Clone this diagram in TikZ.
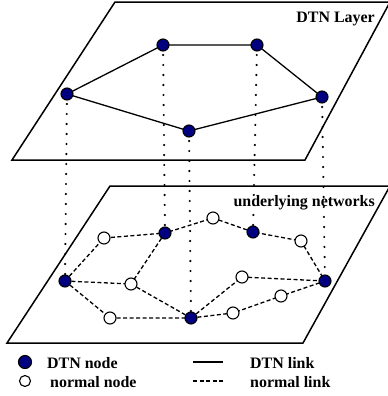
\documentclass[tikz,border=0pt]{standalone}
\usepackage{fontspec}
\setmainfont{Liberation Serif}
\definecolor{dtnblue}{RGB}{0,0,128}
\begin{document}
\begin{tikzpicture}[x=1bp,y=-1bp,
  plane/.style={line width=1.5bp, line join=miter},
  dtn/.style={circle, draw=black, fill=dtnblue, line width=1.1bp, inner sep=0pt, minimum size=12bp},
  plain/.style={circle, draw=black, fill=white, line width=1.1bp, inner sep=0pt, minimum size=12bp},
  dtnlink/.style={line width=1.3bp},
  normlink/.style={line width=1.3bp, dash pattern=on 4bp off 2.5bp},
  proj/.style={line width=2.4bp, line cap=round, dash pattern=on 0bp off 10bp},
  lbl/.style={font=\fontsize{16}{19}\selectfont\bfseries, inner sep=0pt}
]
\useasboundingbox (0,0) rectangle (388,396);
\clip (0,0) rectangle (388,396);

% the two planes
\draw[plane] (12,160) -- (115,2) -- (390,2) -- (305,160) -- cycle;
\draw[plane] (7,343) -- (110,186) -- (390,186) -- (303,343) -- cycle;
\node[lbl, anchor=east] (toplbl) at (375,19) {DTN Layer};
\node[lbl, anchor=east] (botlbl) at (375,203) {underlying networks};

% DTN nodes on the upper plane
\coordinate (A) at (67,94);
\coordinate (B) at (163,45);
\coordinate (C) at (257,45);
\coordinate (D) at (322,97);
\coordinate (E) at (189,131);

% nodes of the underlying network
\coordinate (a) at (65,281);
\coordinate (b) at (165,233);
\coordinate (c) at (253,232);
\coordinate (d) at (325,281);
\coordinate (e) at (191,318);
\coordinate (n1) at (104,238);
\coordinate (n2) at (213,218);
\coordinate (n3) at (301,241);
\coordinate (n4) at (131,284);
\coordinate (n5) at (110,318);
\coordinate (n6) at (242,277);
\coordinate (n7) at (281,296);
\coordinate (n8) at (233,313);

% vertical projections
\foreach \u/\l in {A/a, B/b, C/c, D/d, E/e}
  \draw[proj] (\u) -- (\l);

% DTN links
\draw[dtnlink] (A) -- (B) -- (C) -- (D) -- (E) -- cycle;

% normal links
\draw[normlink] (a) -- (n1) -- (b) -- (n2) -- (c) -- (n3) -- (d);
\draw[normlink] (a) -- (n4) -- (b);
\draw[normlink] (n4) -- (e);
\draw[normlink] (a) -- (n5) -- (e);
\draw[normlink] (e) -- (n8) -- (n7) -- (d);
\draw[normlink] (e) -- (n6) -- (d);

% node markers
\foreach \p in {A,B,C,D,E,a,b,c,d,e}
  \node[dtn] (m\p) at (\p) {};
\foreach \p in {n1,n2,n3,n4,n5,n6,n7,n8}
  \node[plain] (m\p) at (\p) {};

% legend
\node[dtn, minimum size=13bp] (legdtn) at (25,362) {};
\node[plain, minimum size=11bp] (legnorm) at (25,381) {};
\node[lbl, anchor=west] (legdtntxt) at (47,363) {DTN node};
\node[lbl, anchor=west] (legnormtxt) at (46,382) {\ normal node};
\coordinate (ls1) at (193,362);
\coordinate (ls2) at (223,362);
\coordinate (ld1) at (193,381);
\coordinate (ld2) at (224,381);
\draw[dtnlink] (ls1) -- (ls2);
\draw[normlink] (ld1) -- (ld2);
\node[lbl, anchor=west] (legdtnlink) at (250,363) {DTN link};
\node[lbl, anchor=west] (legnormlink) at (250,382) {normal link};
\end{tikzpicture}
\end{document}
